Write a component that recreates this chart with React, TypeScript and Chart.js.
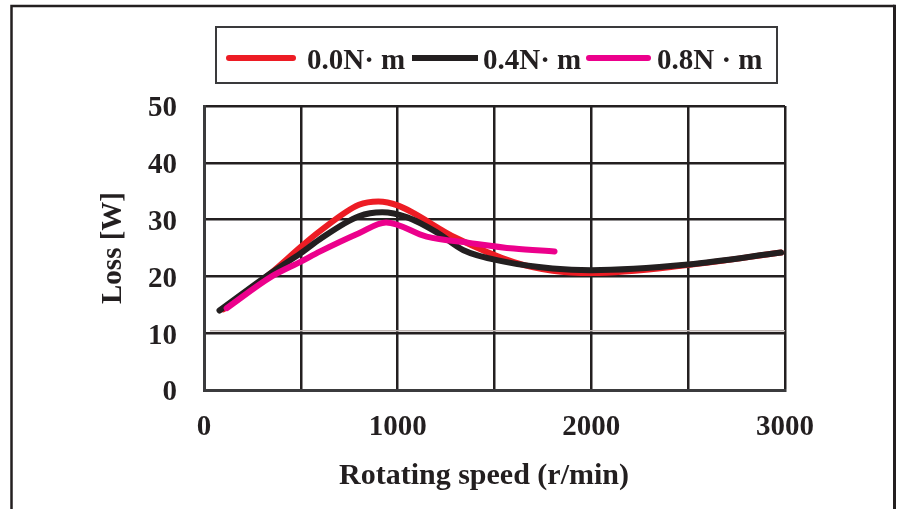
import React, { useEffect, useRef } from 'react';
import { Chart, registerables } from 'chart.js';

Chart.register(...registerables);

// ---- data ----
const seriesLabels = ['0.0N· m', '0.4N· m', '0.8N · m'];
const seriesColors = ['#ed1c24', '#231f20', '#ec008c'];

const speed00 = [100, 350, 500, 600, 800, 900, 1000, 1300, 1600, 1800, 2000, 2500, 2980];
const loss00 = [14.2, 20.7, 25.2, 28.0, 32.6, 33.2, 32.5, 26.8, 22.5, 21.0, 20.6, 22.0, 24.2];

const speed04 = [80, 350, 500, 600, 800, 920, 1050, 1200, 1340, 1550, 1800, 2000, 2500, 2980];
const loss04 = [14.0, 20.7, 24.1, 26.6, 30.6, 31.3, 30.4, 27.8, 24.6, 22.6, 21.4, 21.1, 22.1, 24.2];

const speed08 = [117, 350, 500, 600, 800, 940, 1150, 1370, 1600, 1810];
const loss08 = [14.4, 20.0, 22.6, 24.4, 27.6, 29.5, 27.0, 25.9, 24.9, 24.4];

const xLabeledTicks = [0, 1000, 2000, 3000];
const xMin = 0;
const xMax = 3000;
const xStep = 500;
const yMin = 0;
const yMax = 50;
const yStep = 10;

const xTitle = 'Rotating speed (r/min)';
const yTitle = 'Loss [W]';

// ---- styling ----
const FONT = "'Liberation Serif', 'Times New Roman', Times, serif";
const INK = '#231f20';

const toPoints = (xs: number[], ys: number[]) => xs.map((x, i) => ({ x, y: ys[i] }));

const framePlugin = {
  id: 'frame',
  beforeDraw(chart: any) {
    const ctx = chart.ctx;
    ctx.save();
    ctx.fillStyle = '#ffffff';
    ctx.fillRect(0, 0, chart.width, chart.height);
    ctx.strokeStyle = INK;
    ctx.lineWidth = 2.5;
    ctx.beginPath();
    ctx.moveTo(11.5, chart.height + 5);
    ctx.lineTo(11.5, 6);
    ctx.lineTo(894.5, 6);
    ctx.stroke();
    ctx.lineWidth = 3;
    ctx.beginPath();
    ctx.moveTo(894.5, 4.8);
    ctx.lineTo(894.5, chart.height + 5);
    ctx.stroke();
    ctx.restore();
  },
};

const ghostLinePlugin = {
  id: 'ghostLine',
  beforeDatasetsDraw(chart: any) {
    const { ctx, chartArea, scales } = chart;
    const y = scales.y.getPixelForValue(10) - 2.4;
    ctx.save();
    ctx.strokeStyle = '#bdb4b2';
    ctx.lineWidth = 1.5;
    ctx.beginPath();
    ctx.moveTo(chartArea.left + 6, y);
    ctx.lineTo(chartArea.right, y);
    ctx.stroke();
    ctx.restore();
  },
};

const xTitlePlugin = {
  id: 'xTitle',
  afterDraw(chart: any) {
    const ctx = chart.ctx;
    ctx.save();
    ctx.font = `bold 30px ${FONT}`;
    ctx.fillStyle = INK;
    ctx.textAlign = 'center';
    ctx.textBaseline = 'middle';
    ctx.fillText(xTitle, 484, 476);
    ctx.restore();
  },
};

const legendPlugin = {
  id: 'boxLegend',
  afterDraw(chart: any) {
    const ctx = chart.ctx;
    ctx.save();
    ctx.strokeStyle = '#3a3a3c';
    ctx.lineWidth = 2;
    ctx.strokeRect(216, 27, 561, 56);
    const items = [
      { x0: 229, x1: 293, tx: 307, cap: 'round' },
      { x0: 412, x1: 478, tx: 483, cap: 'butt' },
      { x0: 589, x1: 648, tx: 657, cap: 'round' },
    ];
    ctx.font = `bold 29px ${FONT}`;
    ctx.textAlign = 'left';
    ctx.textBaseline = 'alphabetic';
    chart.data.datasets.forEach((ds: any, i: number) => {
      const it = items[i];
      ctx.strokeStyle = ds.borderColor;
      ctx.lineWidth = 6;
      ctx.lineCap = it.cap;
      ctx.beginPath();
      ctx.moveTo(it.x0, 58);
      ctx.lineTo(it.x1, 58);
      ctx.stroke();
      ctx.fillStyle = INK;
      ctx.fillText(ds.label, it.tx, 69);
    });
    ctx.restore();
  },
};

export default function App() {
  const canvasRef = useRef<HTMLCanvasElement | null>(null);

  useEffect(() => {
    if (!canvasRef.current) return;
    const mk = (i: number, xs: number[], ys: number[], order: number) => ({
      label: seriesLabels[i],
      data: toPoints(xs, ys),
      borderColor: seriesColors[i],
      backgroundColor: seriesColors[i],
      borderWidth: 6,
      borderCapStyle: 'round',
      borderJoinStyle: 'round',
      pointRadius: 0,
      pointHoverRadius: 0,
      cubicInterpolationMode: 'monotone',
      fill: false,
      order,
    });

    const chart = new Chart(canvasRef.current, {
      type: 'line',
      data: {
        datasets: [
          mk(0, speed00, loss00, 3),
          mk(1, speed04, loss04, 2),
          mk(2, speed08, loss08, 1),
        ] as any,
      },
      options: {
        animation: false,
        responsive: false,
        devicePixelRatio: 1,
        layout: { padding: { left: 0, right: 115, top: 106, bottom: 0 } },
        plugins: {
          legend: { display: false },
          tooltip: { enabled: false },
        },
        scales: {
          x: {
            type: 'linear',
            min: xMin,
            max: xMax,
            afterFit: (s: any) => {
              s.height = 119;
            },
            grid: { color: INK, lineWidth: 2.5, drawTicks: false },
            border: { color: '#3b3b3d', width: 3 },
            ticks: {
              stepSize: xStep,
              autoSkip: false,
              maxRotation: 0,
              padding: 20,
              color: INK,
              font: { family: FONT, size: 29, weight: 'bold' },
              callback: (v: any) => (xLabeledTicks.includes(Number(v)) ? String(v) : ''),
            },
            title: { display: false, text: xTitle },
          },
          y: {
            type: 'linear',
            min: yMin,
            max: yMax,
            afterFit: (s: any) => {
              s.width = 204;
            },
            grid: { color: INK, lineWidth: 2.5, drawTicks: false },
            border: { color: '#3b3b3d', width: 3 },
            ticks: {
              stepSize: yStep,
              padding: 27,
              labelOffset: 3,
              color: INK,
              font: { family: FONT, size: 29, weight: 'bold' },
            },
            title: {
              display: true,
              text: yTitle,
              color: INK,
              font: { family: FONT, size: 29, weight: 'bold' },
              padding: { top: 96, bottom: 0 },
            },
          },
        },
      } as any,
      plugins: [framePlugin, ghostLinePlugin, xTitlePlugin, legendPlugin],
    });
    return () => chart.destroy();
  }, []);

  return (
    <div style={{ position: 'fixed', left: 0, top: 0, width: 900, height: 509, background: '#fff' }}>
      <canvas ref={canvasRef} width={900} height={509} style={{ display: 'block', width: 900, height: 509 }} />
    </div>
  );
}
